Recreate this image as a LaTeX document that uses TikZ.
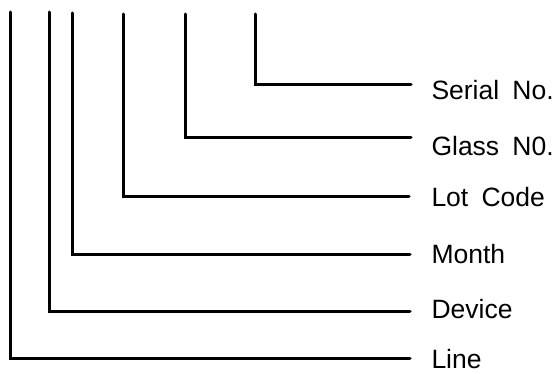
\documentclass[tikz,border=0pt]{standalone}
\usepackage{fontspec}
\setmainfont{Liberation Sans}
\usepackage{tikz}
\usetikzlibrary{positioning}

\newcommand{\gap}{\hspace{0.5em}}

\begin{document}
\begin{tikzpicture}[x=1pt, y=-1pt, line width=3pt, line cap=round, line join=miter,
                    every node/.style={anchor=base west, inner sep=0pt, font=\fontsize{26.5}{30}\selectfont}]
                \useasboundingbox (0,0) rectangle (559,374);
                % tops of the legs
                \coordinate (tline) at (10,12);
                \coordinate (tdev) at (49,12);
                \coordinate (tmon) at (72,13);
                \coordinate (tlot) at (123,14);
                \coordinate (tglass) at (185,14);
                \coordinate (tser) at (255,14);
                % ends of the legs
                \coordinate (eline) at (410,358);
                \coordinate (edev) at (410,311);
                \coordinate (emon) at (410,254);
                \coordinate (elot) at (409,196);
                \coordinate (eglass) at (411,138);
                \coordinate (eser) at (411,85);
                % labels
                \node (ser) at (430,100) {Serial\gap No.};
                \node (glass) at (430,156) {Glass\gap N0.};
                \node (lot) at (430,207) {Lot\gap Code};
                \node (mon) at (430,263) {Month};
                \node (dev) at (430,318) {Device};
                \node (line) at (430,368) {Line};

                \draw (tline) |- (eline);
                \draw (tdev) |- (edev);
                \draw (tmon) |- (emon);
                \draw (tlot) |- (elot);
                \draw (tglass) |- (eglass);
                \draw (tser) |- (eser);
            \end{tikzpicture}
\end{document}
